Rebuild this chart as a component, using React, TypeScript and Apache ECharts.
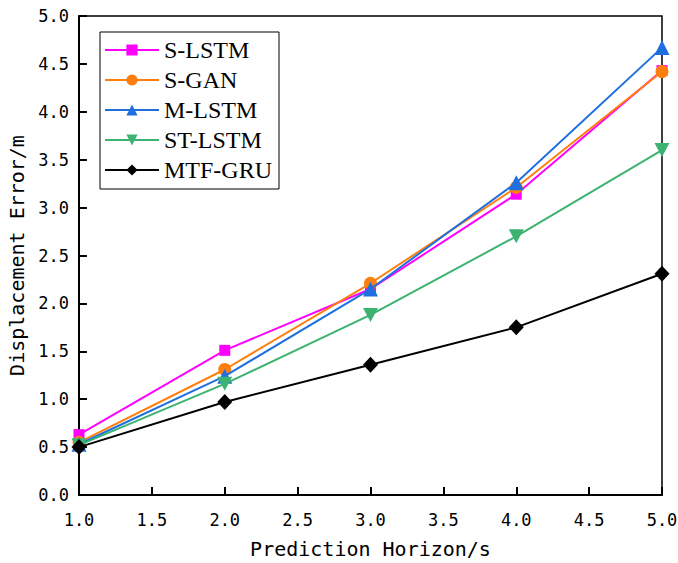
import React, { useEffect, useRef } from "react";
import * as echarts from "echarts";

const horizons = [1, 2, 3, 4, 5];
const sLstm = [0.63, 1.51, 2.15, 3.14, 4.43];
const sGan = [0.55, 1.31, 2.21, 3.21, 4.42];
const mLstm = [0.53, 1.24, 2.15, 3.26, 4.67];
const stLstm = [0.52, 1.16, 1.88, 2.7, 3.6];
const mtfGru = [0.5, 0.97, 1.36, 1.75, 2.31];

const seriesNames = ["S-LSTM", "S-GAN", "M-LSTM", "ST-LSTM", "MTF-GRU"];
const seriesColors = ["#ff00ff", "#ff7f0e", "#1f6fdf", "#3cb371", "#000000"];
const seriesSymbols = [
  "rect",
  "circle",
  "triangle",
  "path://M0,0 L10,0 L5,9 Z",
  "diamond",
];
const seriesSymbolSizes = [11, 13, 15, [15, 14], [15, 16]];
const seriesValues = [sLstm, sGan, mLstm, stLstm, mtfGru];

const axisFont = "'DejaVu Sans Mono', 'Liberation Mono', monospace";

export default function App() {
  const ref = useRef<HTMLDivElement>(null);
  useEffect(() => {
    if (!ref.current) return;
    const chart = echarts.init(ref.current, undefined, { renderer: "svg" });
    chart.setOption({
      animation: false,
      backgroundColor: "#ffffff",
      grid: {
        left: 79,
        top: 16,
        right: 16,
        bottom: 68,
        outerBoundsMode: "none",
        containLabel: false,
        show: true,
        borderColor: "#000",
        borderWidth: 1.5,
        backgroundColor: "transparent",
      },
      legend: {
        orient: "vertical",
        left: 100,
        top: 32,
        itemWidth: 54,
        itemHeight: 14,
        itemGap: 6,
        padding: [6, 7, 7, 4],
        backgroundColor: "#fff",
        borderColor: "#000",
        borderWidth: 1,
        textStyle: {
          fontFamily: "'Liberation Serif', serif",
          fontSize: 24,
          color: "#000",
          lineHeight: 23,
        },
        data: seriesNames,
      },
      xAxis: {
        type: "value",
        min: 1,
        max: 5,
        interval: 0.5,
        name: "Prediction Horizon/s",
        nameLocation: "middle",
        nameGap: 44,
        nameTextStyle: { fontFamily: axisFont, fontSize: 20, color: "#000" },
        axisLine: { show: true, lineStyle: { color: "#000", width: 2 } },
        axisTick: { show: true, inside: true, length: 8, lineStyle: { color: "#000", width: 2 } },
        axisLabel: {
          fontFamily: axisFont,
          fontSize: 17,
          color: "#000",
          margin: 16,
          formatter: (v: number) => v.toFixed(1),
        },
        splitLine: { show: false },
      },
      yAxis: {
        type: "value",
        min: 0,
        max: 5,
        interval: 0.5,
        name: "Displacement Error/m",
        nameLocation: "middle",
        nameGap: 48,
        nameTextStyle: { fontFamily: axisFont, fontSize: 20, color: "#000" },
        axisLine: { show: true, lineStyle: { color: "#000", width: 2 } },
        axisTick: { show: true, inside: true, length: 8, lineStyle: { color: "#000", width: 2 } },
        axisLabel: {
          fontFamily: axisFont,
          fontSize: 17,
          color: "#000",
          margin: 10,
          formatter: (v: number) => v.toFixed(1),
        },
        splitLine: { show: false },
      },
      series: seriesNames.map((name, i) => ({
        name,
        type: "line",
        data: horizons.map((h, j) => [h, seriesValues[i][j]]),
        symbol: seriesSymbols[i],
        symbolSize: seriesSymbolSizes[i],
        showAllSymbol: true,
        clip: false,
        lineStyle: { color: seriesColors[i], width: 2 },
        itemStyle: { color: seriesColors[i] },
        z: 2 + i,
      })),
    });
    return () => chart.dispose();
  }, []);
  return <div ref={ref} style={{ width: 678, height: 563, position: "absolute", left: 0, top: 0 }} />;
}
